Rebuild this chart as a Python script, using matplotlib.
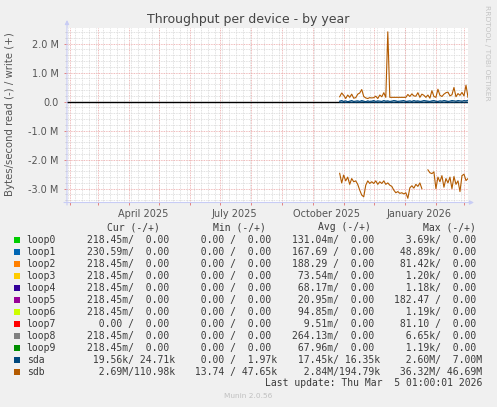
import datetime as dt
import matplotlib
matplotlib.use('Agg')
import matplotlib.pyplot as plt
import matplotlib.dates as mdates
from matplotlib.patches import Rectangle
from matplotlib.ticker import MultipleLocator, FuncFormatter
import numpy as np
import pandas as pd

W, H = 497, 407

# Time window of the yearly munin graph (400 days).
start = dt.datetime(2025, 1, 29, 1, 0)
end = dt.datetime(2026, 3, 5, 1, 0)

# Day offsets from start for the samples that carry data (every 2 days).
sample_days = np.arange(272, 401, 2)

# Values in MB/s. Reads are drawn negative.
sdb_write = [0.17, 0.30, 0.22, 0.11, 0.23, 0.15, 0.26, 0.12, 0.14, 0.26,
             0.30, 0.42, 0.18, 0.13, 0.11, 0.14, 0.13, 0.14, 0.19, 0.11,
             0.23, 0.17, 0.31, 0.15, 2.41, 0.15, 0.15, 0.15, 0.15, 0.15,
             0.15, 0.15, 0.15, 0.15, 0.25, 0.18, 0.27, 0.20, 0.19, 0.31,
             0.15, 0.26, 0.22, 0.15, 0.23, 0.12, 0.38, 0.18, 0.15, 0.43,
             0.22, 0.18, 0.26, 0.31, 0.33, 0.20, 0.24, 0.49, 0.17, 0.28,
             0.22, 0.32, 0.20, 0.57, 0.15]
sdb_read = [-2.47, -2.80, -2.53, -2.73, -2.60, -2.85, -2.65, -2.76, -2.73, -2.85,
            -3.05, -3.22, -3.28, -2.88, -2.73, -2.82, -2.76, -2.82, -2.73, -2.85,
            -2.76, -2.82, -2.73, -2.85, -2.80, -2.88, -2.92, -3.05, -3.14, -3.10,
            -3.16, -3.14, -3.18, -3.14, -3.33, -2.97, -2.90, -2.98, -2.85, -2.92,
            -2.80, -3.00, np.nan, np.nan, -2.35, -2.45, -2.48, -2.42, -3.00, -2.60,
            -2.76, -2.55, -2.95, -2.65, -2.80, -2.60, -3.00, -2.58, -2.85, -2.73,
            -3.10, -2.55, -2.50, -2.72, -2.65]
sda_write = [0.02, 0.04, 0.01, 0.03, 0.00, 0.02, 0.04, 0.01, 0.02, 0.03,
             0.01, 0.04, 0.02, 0.00, 0.03, 0.01, 0.02, 0.04, 0.01, 0.03,
             0.02, 0.01, 0.04, 0.02, 0.03, 0.01, 0.02, 0.04, 0.03, 0.01,
             0.02, 0.03, 0.04, 0.01, 0.02, 0.03, 0.01, 0.04, 0.02, 0.03,
             0.01, 0.02, 0.04, 0.03, 0.02, 0.01, 0.03, 0.04, 0.02, 0.01,
             0.03, 0.02, 0.04, 0.03, 0.01, 0.02, 0.04, 0.03, 0.02, 0.04,
             0.03, 0.02, 0.04, 0.03, 0.05]
sda_read = [-0.01, -0.02, -0.01, -0.02, -0.01, -0.01, -0.02, -0.01, -0.02, -0.01,
            -0.02, -0.01, -0.01, -0.02, -0.01, -0.02, -0.01, -0.01, -0.02, -0.01,
            -0.02, -0.01, -0.02, -0.01, -0.01, -0.02, -0.01, -0.02, -0.01, -0.01,
            -0.02, -0.01, -0.02, -0.01, -0.01, -0.02, -0.01, -0.02, -0.01, -0.01,
            -0.02, -0.01, -0.02, -0.01, -0.01, -0.02, -0.01, -0.02, -0.01, -0.01,
            -0.02, -0.01, -0.02, -0.01, -0.01, -0.02, -0.01, -0.02, -0.01, -0.01,
            -0.02, -0.01, -0.02, -0.01, -0.02]

# Legend table.
devices = ['loop0', 'loop1', 'loop2', 'loop3', 'loop4', 'loop5',
           'loop6', 'loop7', 'loop8', 'loop9', 'sda', 'sdb']
colors = ['#00CC00', '#0066B3', '#FF8000', '#FFCC00', '#330099', '#990099',
          '#CCFF00', '#FF0000', '#808080', '#008F00', '#00487D', '#B35A00']
cur = ['218.45m/  0.00 ', '230.59m/  0.00 ', '218.45m/  0.00 ', '218.45m/  0.00 ',
       '218.45m/  0.00 ', '218.45m/  0.00 ', '218.45m/  0.00 ', '  0.00 /  0.00 ',
       '218.45m/  0.00 ', '218.45m/  0.00 ', ' 19.56k/ 24.71k', '  2.69M/110.98k']
mins = ['  0.00 /  0.00 '] * 10 + ['  0.00 /  1.97k', ' 13.74 / 47.65k']
avgs = ['131.04m/  0.00 ', '167.69 /  0.00 ', '188.29 /  0.00 ', ' 73.54m/  0.00 ',
        ' 68.17m/  0.00 ', ' 20.95m/  0.00 ', ' 94.85m/  0.00 ', '  9.51m/  0.00 ',
        '264.13m/  0.00 ', ' 67.96m/  0.00 ', ' 17.45k/ 16.35k', '  2.84M/194.79k']
maxs = ['  3.69k/  0.00 ', ' 48.89k/  0.00 ', ' 81.42k/  0.00 ', '  1.20k/  0.00 ',
        '  1.18k/  0.00 ', '182.47 /  0.00 ', '  1.19k/  0.00 ', ' 81.10 /  0.00 ',
        '  6.65k/  0.00 ', '  1.19k/  0.00 ', '  2.60M/  7.00M', ' 36.32M/ 46.69M']


def fx(x):
    return x / W


def fy(y):
    return 1 - y / H


fig = plt.figure(figsize=(W / 100, H / 100), dpi=100, facecolor='#F0F0F0')
ax = fig.add_axes([fx(67), fy(202.5), (468 - 67) / W, (202.5 - 28) / H])
ax.set_facecolor('white')

dates = [start + dt.timedelta(days=int(d)) for d in sample_days]

# Weekly minor grid.
for wk in pd.date_range(start, end, freq='W-THU'):
    ax.axvline(wk, color='#d6d6d6', lw=0.6, ls=(0, (1, 1)), zorder=0)

ax.axhline(0, color='black', lw=1.0, zorder=2)
ax.plot(dates, sda_read, color=colors[10], lw=0.8, zorder=3)
ax.plot(dates, sda_write, color=colors[10], lw=0.8, zorder=3)
ax.plot(dates, sdb_read, color=colors[11], lw=0.8, zorder=4)
ax.plot(dates, sdb_write, color=colors[11], lw=0.8, zorder=4)

ax.set_xlim(start, end)
ax.set_ylim(-(202.5 - 101.7) / 29, (101.7 - 28) / 29)

ax.xaxis.set_major_locator(mdates.MonthLocator(bymonth=[1, 4, 7, 10], bymonthday=15))
ax.xaxis.set_major_formatter(mdates.DateFormatter('%B %Y'))
ax.xaxis.set_minor_locator(mdates.MonthLocator())
ax.yaxis.set_major_locator(MultipleLocator(1))
ax.yaxis.set_minor_locator(MultipleLocator(0.2))
ax.yaxis.set_major_formatter(FuncFormatter(lambda v, p: '0.0' if abs(v) < 1e-9 else '%.1f M' % v))

ax.grid(which='major', axis='y', color='#eba3a3', lw=0.6, ls=(0, (1, 1)), zorder=1)
ax.grid(which='minor', axis='y', color='#d6d6d6', lw=0.6, ls=(0, (1, 1)), zorder=0)
ax.grid(which='minor', axis='x', color='#eba3a3', lw=0.6, ls=(0, (1, 1)), zorder=1)
ax.set_axisbelow(True)

ax.tick_params(axis='x', which='major', length=0, labelsize=7, labelcolor='#555555', pad=5)
ax.tick_params(axis='x', which='minor', length=2, color='#e07070', width=0.6)
ax.tick_params(axis='y', which='major', length=2, color='#e07070', width=0.6,
               labelsize=7, labelcolor='#555555', pad=4)
ax.tick_params(axis='y', which='minor', length=1.5, color='#bbbbbb', width=0.5)
for s in ax.spines.values():
    s.set_visible(False)

# Axis lines with arrow heads, as rrdtool draws them.
arrow = dict(arrowstyle='-|>', color='#c8ccf5', lw=0.8, mutation_scale=6, shrinkA=0, shrinkB=0)
fig.add_artist(matplotlib.patches.FancyArrowPatch((67, H - 205), (67, H - 20),
               transform=None, **arrow))
fig.add_artist(matplotlib.patches.FancyArrowPatch((64, H - 202.5), (474, H - 202.5),
               transform=None, **arrow))

fig.text(fx(248), fy(20), 'Throughput per device - by year', ha='center', va='center',
         fontsize=9, color='#444444')
fig.text(fx(10), fy(114), 'Bytes/second read (-) / write (+)', rotation=90,
         ha='center', va='center', fontsize=7.3, color='#555555')
fig.text(fx(487), fy(5), 'RRDTOOL / TOBI OETIKER', rotation=270, ha='center', va='top',
         fontsize=5.4, color='#c4c4c4')

# Legend table.
mono = dict(family='DejaVu Sans Mono', fontsize=7.05, color='#3a3a3a', va='center')
fig.text(fx(107.3), fy(227.3), 'Cur (-/+)', **mono)
fig.text(fx(212.7), fy(227.3), 'Min (-/+)', **mono)
fig.text(fx(318.3), fy(227.3), 'Avg (-/+)', **mono)
fig.text(fx(422.7), fy(227.3), 'Max (-/+)', **mono)
for i, name in enumerate(devices):
    y = 240 + 12 * i
    fig.add_artist(Rectangle((fx(14), fy(y + 3)), 6 / W, 6 / H, transform=fig.transFigure,
                             facecolor=colors[i], edgecolor='none'))
    fig.text(fx(26.7), fy(y), name, **mono)
    fig.text(fx(87.3), fy(y), cur[i], **mono)
    fig.text(fx(189.2), fy(y), mins[i], **mono)
    fig.text(fx(292.3), fy(y), avgs[i], **mono)
    fig.text(fx(394.2), fy(y), maxs[i], **mono)
fig.text(fx(482), fy(383.3), 'Last update: Thu Mar  5 01:00:01 2026', ha='right', **mono)
fig.text(fx(248), fy(395.7), 'Munin 2.0.56', ha='center', va='center', fontsize=5.3,
         color='#c0c0c0')

fig.savefig('out.png', dpi=100, facecolor=fig.get_facecolor())
